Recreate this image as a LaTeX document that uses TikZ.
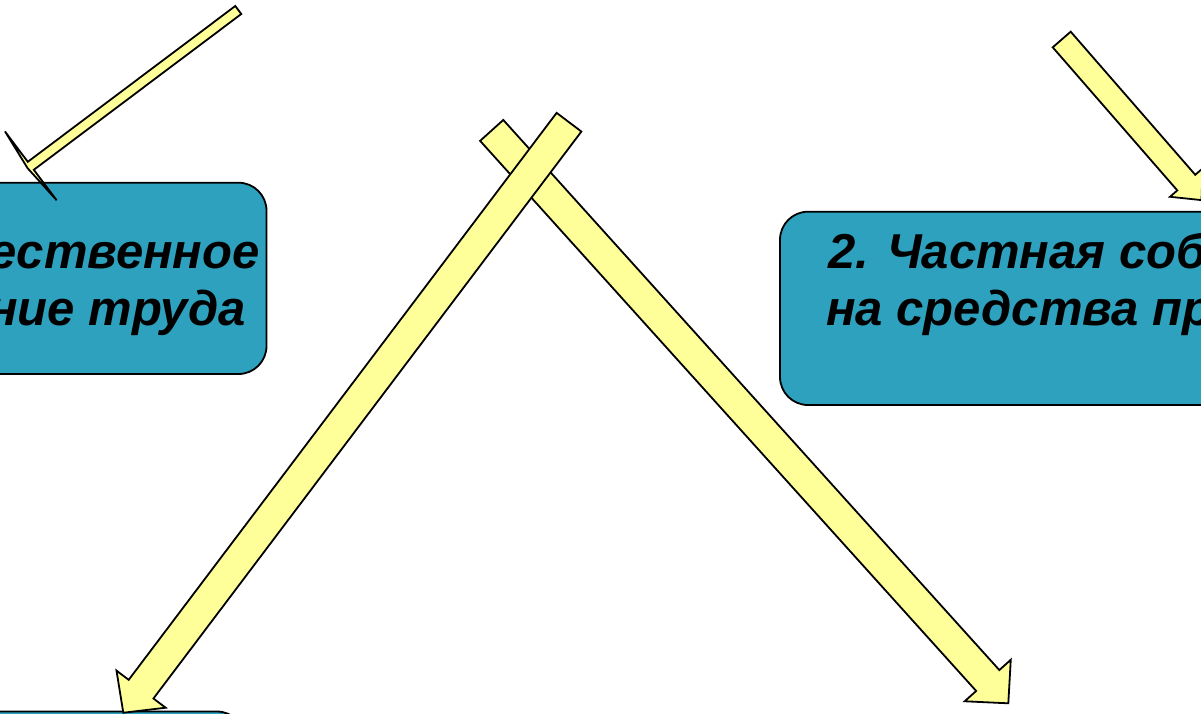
\documentclass[tikz,border=0pt]{standalone}
\usepackage{fontspec}
\setmainfont{Liberation Sans}
\usetikzlibrary{calc}
\definecolor{boxblue}{RGB}{46,161,191}
\definecolor{arrowyellow}{RGB}{255,255,153}
\tikzset{
  bluebox/.style={draw=black, line width=1.8pt, fill=boxblue, rounded corners=28pt},
  yarrow/.style={draw=black, line width=1.8pt, fill=arrowyellow, line join=miter},
  boxtext/.style={inner sep=0pt, font=\fontsize{49}{57}\selectfont\bfseries\itshape, text=black}
}
% #1 start centre, #2 tip, #3 shaft half width, #4 head half width, #5 head length
\newcommand\myblockarrow[5]{%
  \coordinate (hb) at ($(#2)!#5!(#1)$);
  \draw[yarrow] ($(#1)!#3!90:(#2)$) -- ($(hb)!#3!-90:(#1)$) -- ($(hb)!#4!-90:(#1)$)
    -- (#2) -- ($(hb)!#4!90:(#1)$) -- ($(hb)!#3!90:(#1)$) -- ($(#1)!#3!-90:(#2)$) -- cycle;
}
\begin{document}
\begin{tikzpicture}[x=1pt,y=-1pt]
\useasboundingbox (0,0) rectangle (1201,713);
\clip (0,0) rectangle (1201,713);
\fill[white] (0,0) rectangle (1201,713);
% boxes
\draw[bluebox] (-400,182.7) rectangle (266.5,374);
\draw[bluebox] (780,211.7) rectangle (1600,405);
\draw[bluebox] (-400,711.5) rectangle (245,900);
\node[boxtext, anchor=base east] (l1) at (260,268) {1. Общественное};
\node[boxtext, anchor=base east] (l2) at (246,325) {разделение труда};
\node[boxtext, anchor=base west] (r1) at (828,268.3) {2. Частная собственность};
\node[boxtext, anchor=base west] (r2) at (826,325) {на средства производства};
% arrows
\coordinate (a4s) at (491.7,130.4);
\coordinate (a4t) at (1008.3,703.3);
\myblockarrow{a4s}{a4t}{15.6pt}{31pt}{30.7pt}
\coordinate (a3s) at (569,122.2);
\coordinate (a3t) at (123.3,712.7);
\myblockarrow{a3s}{a3t}{15.5pt}{30.8pt}{29.5pt}
\coordinate (a1s) at (238.3,10);
\coordinate (a1t) at (27.6,168.2);
\myblockarrow{a1s}{a1t}{5pt}{43pt}{4pt}
\coordinate (a2s) at (1061.7,39.5);
\coordinate (a2t) at (1201.5,200.1);
\myblockarrow{a2s}{a2t}{11.9pt}{21.6pt}{23.2pt}
\end{tikzpicture}
\end{document}
